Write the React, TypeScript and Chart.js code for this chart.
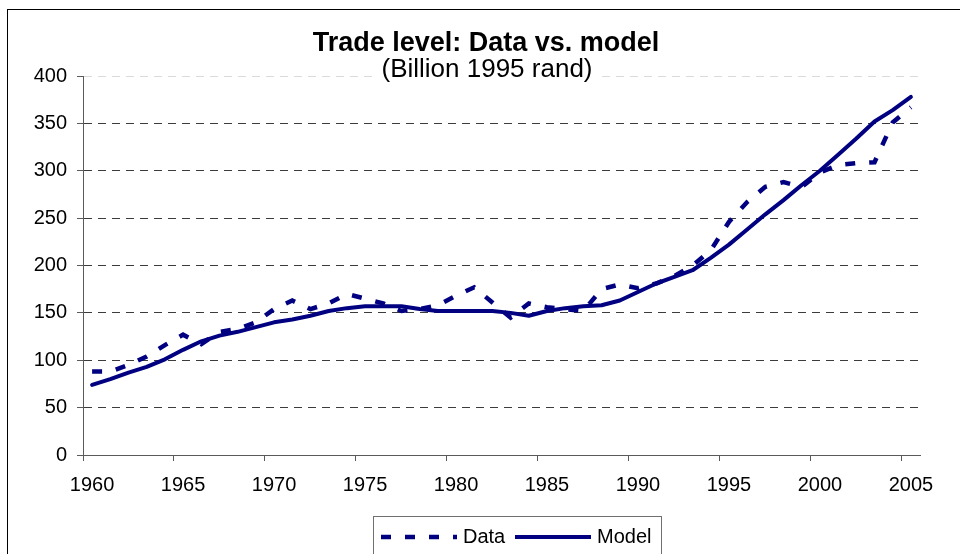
import React, { useEffect, useRef } from "react";
import { Chart, registerables } from "chart.js";

Chart.register(...registerables);

const years = [
  "1960", "1961", "1962", "1963", "1964", "1965", "1966", "1967", "1968", "1969",
  "1970", "1971", "1972", "1973", "1974", "1975", "1976", "1977", "1978", "1979",
  "1980", "1981", "1982", "1983", "1984", "1985", "1986", "1987", "1988", "1989",
  "1990", "1991", "1992", "1993", "1994", "1995", "1996", "1997", "1998", "1999",
  "2000", "2001", "2002", "2003", "2004", "2005",
];

const dataValues = [
  88, 88, 95, 104, 116, 127, 117, 130, 133, 140,
  154, 163, 154, 160, 170, 165, 160, 152, 154, 158,
  168, 177, 161, 145, 160, 156, 154, 152, 175, 180,
  176, 181, 189, 200, 216, 246, 267, 283, 288, 283,
  298, 306, 308, 309, 351, 367,
];

const modelValues = [
  74, 80, 87, 93, 101, 111, 120, 126, 130, 135,
  140, 143, 147, 152, 155, 157, 157, 157, 154, 152,
  152, 152, 152, 150, 147, 152, 155, 157, 158, 163,
  172, 181, 188, 195, 208, 222, 238, 254, 269, 285,
  300, 317, 334, 352, 364, 378,
];

const yMin = 0;
const yMax = 400;
const yStep = 50;
const labelEvery = 5;

const titleText = "Trade level: Data vs. model";
const subtitleText = "(Billion 1995 rand)";
const seriesNames = ["Data", "Model"];

const NAVY = "#000080";
const AXIS = "#5a5a5a";
const FONT = "'Liberation Sans', Arial, sans-serif";

const decorPlugin = {
  id: "decor",
  afterDraw(chart: any) {
    const ctx: CanvasRenderingContext2D = chart.ctx;
    const W = chart.width;
    const H = chart.height;
    ctx.save();
    // outer frame
    ctx.fillStyle = "#000";
    ctx.fillRect(7, 9, 1, H - 9);
    ctx.fillRect(7, 9, W - 7, 1);

    // title block
    ctx.fillStyle = "#fff";
    ctx.fillRect(377, 62, 221, 18);
    ctx.fillStyle = "#000";
    ctx.textAlign = "center";
    ctx.textBaseline = "alphabetic";
    ctx.font = `bold 27px ${FONT}`;
    ctx.fillText(titleText, 486, 51);
    ctx.font = `26px ${FONT}`;
    ctx.fillText(subtitleText, 487, 77);

    // legend
    ctx.strokeStyle = "#707070";
    ctx.lineWidth = 1;
    ctx.strokeRect(373.5, 516.5, 288, 60);
    const ds = chart.data.datasets;
    const items = [
      { x0: 381, x1: 457, tx: 463 },
      { x0: 515, x1: 591, tx: 597 },
    ];
    ctx.font = `20px ${FONT}`;
    ctx.textAlign = "left";
    ctx.textBaseline = "alphabetic";
    items.forEach((it, i) => {
      const d = ds[i];
      ctx.save();
      ctx.strokeStyle = d.borderColor;
      ctx.lineWidth = d.borderWidth;
      ctx.setLineDash(d.borderDash || []);
      ctx.lineCap = "butt";
      ctx.beginPath();
      ctx.moveTo(it.x0, 537);
      ctx.lineTo(it.x1, 537);
      ctx.stroke();
      ctx.restore();
      ctx.fillStyle = "#000";
      ctx.fillText(seriesNames[i], it.tx, 543);
    });
    ctx.restore();
  },
};

export default function App() {
  const ref = useRef<HTMLCanvasElement>(null);

  useEffect(() => {
    const canvas = ref.current;
    if (!canvas) return;
    const chart = new Chart(canvas, {
      type: "line",
      data: {
        labels: years,
        datasets: [
          {
            label: seriesNames[0],
            data: dataValues,
            borderColor: NAVY,
            backgroundColor: NAVY,
            borderWidth: 4.5,
            borderDash: [10, 14],
            borderCapStyle: "butt",
            pointRadius: 0,
            fill: false,
            tension: 0,
          },
          {
            label: seriesNames[1],
            data: modelValues,
            borderColor: NAVY,
            backgroundColor: NAVY,
            borderWidth: 4,
            borderCapStyle: "round",
            borderJoinStyle: "round",
            pointRadius: 0,
            fill: false,
            tension: 0,
          },
        ],
      },
      options: {
        animation: false,
        responsive: false,
        maintainAspectRatio: false,
        events: [],
        layout: { padding: { left: 13, right: 40, top: 76, bottom: 59 } },
        plugins: {
          legend: { display: false },
          title: { display: false },
          tooltip: { enabled: false },
        },
        scales: {
          x: {
            type: "category",
            offset: true,
            grid: {
              offset: true,
              drawOnChartArea: false,
              drawTicks: true,
              tickLength: 6,
              tickWidth: 1,
              tickColor: (c: any) =>
                typeof c.index === "number" && c.index % labelEvery === 0 ? AXIS : "rgba(0,0,0,0)",
            },
            border: { display: true, color: AXIS, width: 1 },
            ticks: {
              autoSkip: false,
              maxRotation: 0,
              minRotation: 0,
              padding: 12,
              color: "#000",
              font: { family: FONT, size: 20 },
              callback: (_v: any, i: number) => (i % labelEvery === 0 ? years[i] : ""),
            },
            afterFit: (s: any) => {
              s.height = 40;
            },
          },
          y: {
            min: yMin,
            max: yMax,
            ticks: {
              stepSize: yStep,
              padding: 10,
              color: "#000",
              font: { family: FONT, size: 20 },
            },
            grid: {
              drawOnChartArea: true,
              drawTicks: true,
              tickLength: 6,
              tickColor: AXIS,
              lineWidth: 1,
              color: (c: any) => {
                const v = c.tick ? c.tick.value : -1;
                if (v === yMax) return "#dadada";
                if (v === yMin) return "rgba(0,0,0,0)";
                return "#3c3c3c";
              },
            },
            border: { display: true, color: AXIS, width: 1, dash: [8, 6] },
            afterFit: (s: any) => {
              s.width = 70;
            },
          },
        },
      },
      plugins: [decorPlugin],
    } as any);
    return () => chart.destroy();
  }, []);

  return (
    <div style={{ position: "fixed", left: 0, top: 0, width: 960, height: 554, background: "#fff" }}>
      <canvas ref={ref} width={960} height={554} style={{ display: "block" }} />
    </div>
  );
}
